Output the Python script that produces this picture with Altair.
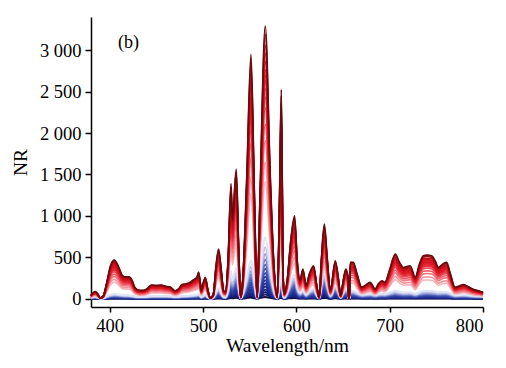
import altair as alt
import pandas as pd

# wavelength grid (nm)
wavelength = [380, 382.8, 384.6, 387, 390, 393, 397, 401, 405, 409, 413, 416, 421, 424, 427, 432,
              436, 440, 445, 450, 455, 460, 465, 470, 474, 477.5, 482, 486, 490, 493.6, 495.3, 497,
              498.2, 500, 502.5, 505, 507.8, 511, 514, 516.7, 519.5, 522, 524, 527, 530, 531.5,
              535.6, 538, 540.3, 543, 547, 551.4, 555, 558, 561, 566.7, 572, 576, 579.6, 582,
              583.9, 585.8, 587, 590, 594, 598.1, 601, 604, 607, 610.5, 614, 618.5, 622, 624.5,
              627, 630, 633, 636.5, 641.7, 645, 647.5, 650, 653, 655.5, 656, 656.8, 657.8, 661,
              665, 670, 675, 679, 684.5, 688, 691.7, 695, 700, 706, 710, 715, 722, 727.4, 732,
              736, 740, 745, 749, 752, 757, 761, 765, 770, 775, 779, 785, 790, 795, 800]

# upper (red) envelope spectrum
red_top = [40, 76, 85, 60, 10, 30, 200, 400, 465, 400, 290, 265, 265, 220, 136, 100,
           100, 120, 165, 160, 165, 150, 140, 96, 120, 170, 180, 195, 230, 260, 320, 200,
           100, 180, 255, 120, 8, 50, 400, 600, 350, 100, 80, 500, 1390, 950,
           1565, 700, 20, 300, 1500, 2948, 1300, 20, 1200, 3289, 1500, 400, 20, 1200,
           2526, 300, 60, 200, 700, 1000, 450, 217, 357, 157, 300, 398, 150, 16,
           500, 900, 500, 96, 458, 250, 36, 200, 357, 250, 5, 5, 438, 438,
           300, 137, 170, 197, 116, 180, 217, 197, 350, 538, 450, 377, 398, 257, 420,
           518, 525, 518, 450, 377, 420, 438, 300, 137, 155, 169, 140, 110, 95, 76]

# upper (blue) envelope spectrum
blue_top = [12, 24, 26, 18, 4, 6, 30, 48, 56, 52, 45, 42, 40, 36, 28, 24,
            24, 26, 32, 32, 32, 32, 30, 24, 26, 32, 34, 38, 42, 48, 55, 38,
            20, 35, 50, 22, 3, 14, 80, 130, 70, 22, 18, 110, 330, 220,
            370, 170, 6, 70, 260, 460, 220, 6, 280, 740, 350, 100, 6, 170,
            320, 50, 12, 70, 210, 290, 140, 70, 100, 50, 90, 120, 45, 6,
            190, 330, 180, 36, 160, 90, 12, 70, 120, 90, 2, 2, 100, 95,
            75, 50, 55, 60, 45, 55, 60, 58, 75, 95, 85, 75, 78, 60, 80,
            92, 95, 92, 85, 78, 82, 82, 65, 42, 45, 48, 42, 36, 33, 30]

blue_scales = [0.03, 0.07, 0.11, 0.15, 0.20, 0.25, 0.30, 0.36, 0.42, 0.49, 0.56, 0.64, 0.73, 0.84, 1.0]
red_scales = [0.43, 0.50, 0.58, 0.64, 0.70, 0.74, 0.77, 0.80, 0.82, 0.84, 0.87, 0.90, 0.93, 0.97, 1.0]

blue_colors = ["#0a0a30", "#141868", "#181f78", "#1a2482", "#1d2a8c", "#202f94", "#24359c",
               "#2a3ca4", "#3346ac", "#4152b4", "#5563bd", "#707ec8", "#96a1d8", "#bcc3e8", "#dfe3f6"]
red_colors = ["#f7b8bd", "#f4959d", "#f07880", "#ec5e68", "#e94855", "#e63544", "#e42a38",
              "#e2202e", "#e01a28", "#dc1622", "#d6131f", "#ce111c", "#bf0f18", "#a00d12", "#6a0a0c"]

rows = []
sid = 0
colors = []
for s, c in zip(blue_scales, blue_colors):
    for w, v in zip(wavelength, blue_top):
        rows.append({"wl": w, "nr": s * v, "sid": sid, "grp": "blue"})
    colors.append(c)
    sid += 1
for s, c in zip(red_scales, red_colors):
    for w, v in zip(wavelength, red_top):
        rows.append({"wl": w, "nr": s * v, "sid": sid, "grp": "red"})
    colors.append(c)
    sid += 1

df = pd.DataFrame(rows)
ids = list(range(sid))

FONT = "Liberation Serif"

x_enc = alt.X("wl:Q", scale=alt.Scale(domain=[380, 800], nice=False),
              axis=alt.Axis(values=[400, 500, 600, 700, 800], title="Wavelength/nm",
                            grid=False, tickSize=5, labelPadding=4, titlePadding=2,
                            labelFont=FONT, titleFont=FONT))
y_enc = alt.Y("nr:Q", scale=alt.Scale(domain=[-100, 3400], nice=False),
              axis=alt.Axis(values=[0, 500, 1000, 1500, 2000, 2500, 3000], title="NR",
                            grid=False, tickSize=6, labelPadding=4, titlePadding=9,
                            labelFont=FONT, titleFont=FONT,
                            labelExpr="replace(format(datum.value, ','), ',', ' ')"))
c_enc = alt.Color("sid:O", scale=alt.Scale(domain=ids, range=colors), legend=None)

base = alt.Chart(df).encode(x=x_enc, y=y_enc, color=c_enc, order=alt.Order("sid:O"))

blue_lines = base.transform_filter(alt.datum.grp == "blue").mark_line(
    strokeWidth=2.0, interpolate="monotone")
red_lines = base.transform_filter(alt.datum.grp == "red").mark_line(
    strokeWidth=1.7, interpolate="monotone")

label = alt.Chart(pd.DataFrame({"t": ["(b)"]})).mark_text(
    align="left", baseline="alphabetic", font=FONT, fontSize=18, color="black"
).encode(text="t:N", x=alt.value(27), y=alt.value(31))

chart = alt.layer(blue_lines, red_lines, label).properties(
    width=392, height=290,
    autosize=alt.AutoSizeParams(type="none"),
    padding={"left": 83, "top": 9, "right": 15, "bottom": 60},
).configure_view(stroke=None).configure_axis(
    labelFont=FONT, titleFont=FONT, labelFontSize=18.5, titleFontSize=19.5,
    titleFontWeight="normal", labelColor="black", titleColor="black",
    domainColor="black", tickColor="black", domainWidth=1.5, tickWidth=1.5,
)

chart.save("out.html", embed_options={"renderer": "svg", "actions": False})
